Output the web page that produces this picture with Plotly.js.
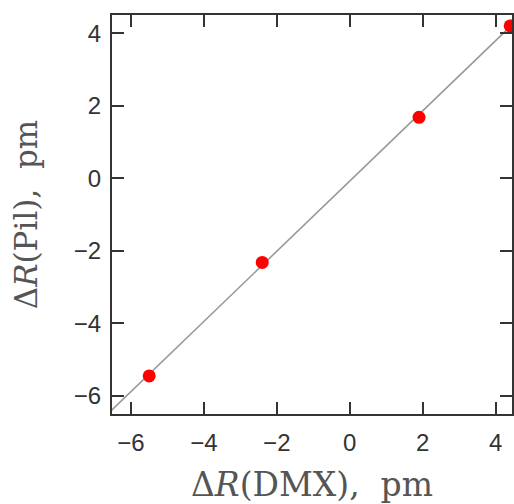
<!DOCTYPE html>
<html>
<head>
<meta charset="utf-8">
<script src="https://cdn.plot.ly/plotly-3.0.1.min.js"></script>
<style>html,body{margin:0;padding:0;background:#fff;}#chart{width:514px;height:504px;}</style>
</head>
<body>
<div id="chart"></div>
<script>
// Data
const dmx = [-5.5, -2.4, 1.9, 4.4];
const pil = [-5.45, -2.32, 1.68, 4.2];
// Fitted line endpoints
const fitX = [-6.7, 4.4];
const fitY = [-6.56, 4.18];
const xTicks = [-6, -4, -2, 0, 2, 4];
const yTicks = [-6, -4, -2, 0, 2, 4];

const axisCommon = {
  showgrid: false,
  zeroline: false,
  showline: true,
  linecolor: '#333',
  linewidth: 2,
  mirror: 'ticks',
  ticks: 'inside',
  ticklen: 12,
  tickwidth: 2,
  tickcolor: '#333',
  tickfont: {family: 'Liberation Sans, Arial, sans-serif', size: 24, color: '#333'}
};

const traces = [
  {x: fitX, y: fitY, mode: 'lines', line: {color: '#999', width: 1.6}, hoverinfo: 'skip', showlegend: false},
  {x: dmx, y: pil, mode: 'markers', marker: {color: '#ff0000', size: 13}, showlegend: false}
];

const layout = {
  width: 514, height: 504,
  margin: {l: 112, r: 2, t: 15, b: 90},
  paper_bgcolor: '#fff', plot_bgcolor: '#fff',
  showlegend: false,
  xaxis: Object.assign({}, axisCommon, {
    range: [-6.52, 4.45],
    tickvals: xTicks,
    ticktext: xTicks.map(v => v < 0 ? '\u2212' + Math.abs(v) : String(v)),
    ticklabelstandoff: 6,
    title: {text: '\u0394<i>R</i>(DMX),\u00a0\u00a0pm', font: {family: 'DejaVu Serif, serif', size: 33, color: '#555'}, standoff: 19}
  }),
  yaxis: Object.assign({}, axisCommon, {
    range: [-6.5, 4.5],
    tickvals: yTicks,
    ticktext: yTicks.map(v => v < 0 ? '\u2212' + Math.abs(v) : String(v)),
    ticklabelstandoff: 4,
    title: {text: '\u0394<i>R</i>(Pil),\u00a0\u00a0pm', font: {family: 'DejaVu Serif, serif', size: 31, color: '#555'}, standoff: 27}
  })
};

Plotly.newPlot('chart', traces, layout, {displayModeBar: false, staticPlot: true});
</script>
</body>
</html>
